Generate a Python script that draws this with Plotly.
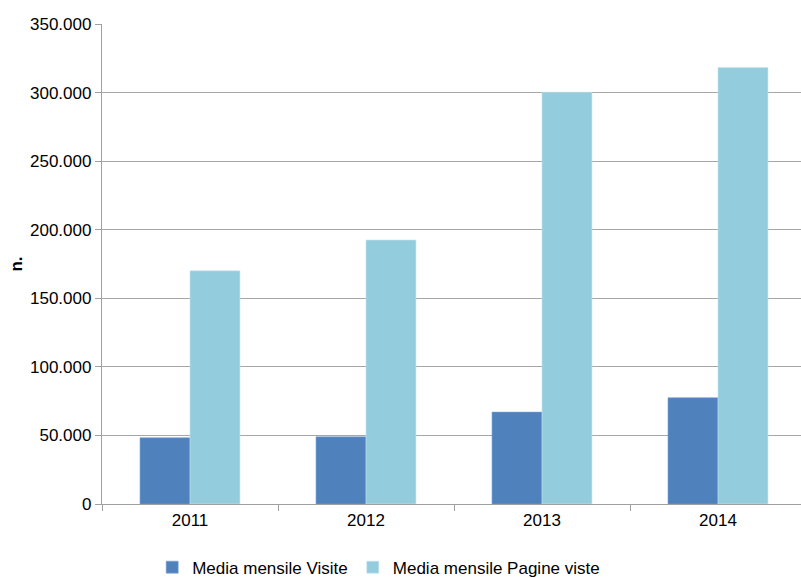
import plotly.graph_objects as go

years = ["2011", "2012", "2013", "2014"]
visite = [48300, 49000, 67000, 77500]
pagine_viste = [170000, 192500, 300200, 318200]
y_ticks = [0, 50000, 100000, 150000, 200000, 250000, 300000, 350000]

fig = go.Figure()
fig.add_trace(go.Bar(x=years, y=visite, name="Media mensile Visite",
                     marker=dict(color="#4f81bd", line=dict(color="#7ba0d0", width=0.6))))
fig.add_trace(go.Bar(x=years, y=pagine_viste, name="Media mensile Pagine viste",
                     marker=dict(color="#93cddd", line=dict(color="#c4e4ee", width=0.6))))

font = dict(family="Liberation Sans, Arial, sans-serif", size=17, color="#000000")

fig.update_layout(
    width=801, height=578,
    margin=dict(l=102, r=0, t=24, b=74),
    paper_bgcolor="white", plot_bgcolor="white",
    barmode="group", bargap=0.432, bargroupgap=0,
    separators=",.",
    font=font,
    showlegend=True,
    legend=dict(orientation="h", xref="container", yref="container",
                x=0.19, xanchor="left", y=0.018, yanchor="middle",
                font=font, itemwidth=30, traceorder="normal"),
    xaxis=dict(type="category", range=[-0.5, 3.4716],
               showline=True, linecolor="#a0a0a0", linewidth=1.3,
               ticks="outside", tickson="boundaries", ticklen=6, tickcolor="#a0a0a0",
               tickfont=font, showgrid=False, fixedrange=True),
    yaxis=dict(range=[0, 350000], tickvals=y_ticks, tickformat=",d",
               showline=True, linecolor="#a0a0a0", linewidth=1.3,
               ticks="outside", ticklen=6, tickcolor="#a0a0a0",
               showgrid=True, gridcolor="#a6a6a6", gridwidth=1.3,
               zeroline=False, tickfont=font,
               title=dict(text="<b>n.</b>", font=font, standoff=3)),
)

fig.write_html("out.html")
